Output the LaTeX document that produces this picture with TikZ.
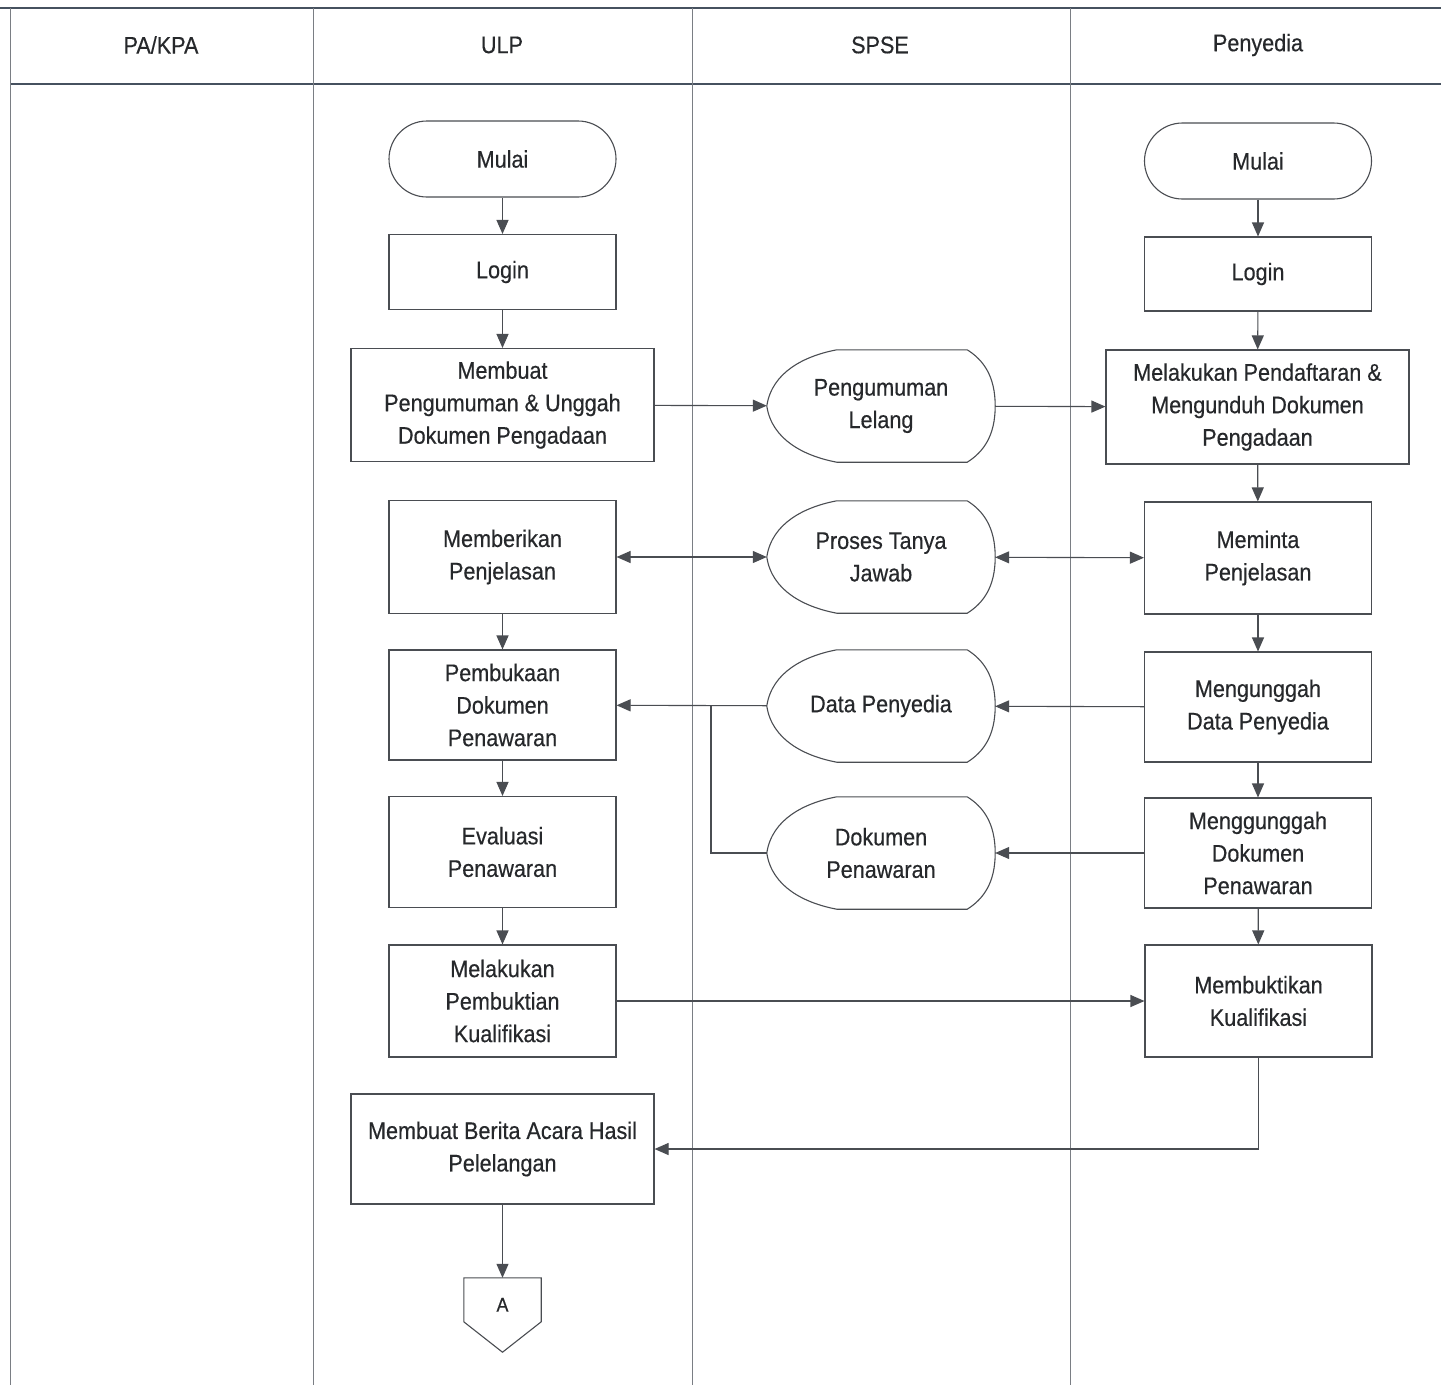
\documentclass[tikz,border=0pt]{standalone}
\usepackage{fontspec}
\setmainfont{Liberation Sans}[FakeStretch=0.9,FakeBold=0.4]
\usetikzlibrary{arrows.meta,calc}

\definecolor{lncol}{HTML}{4A4D52}
\definecolor{txt}{HTML}{26282B}
\definecolor{frame}{HTML}{46515F}
\definecolor{lane}{HTML}{7A7E84}

\newcommand\lab{\fontsize{24}{32.5}\selectfont}

% outline of a "display" symbol around a node
\newcommand\dispedge[1]{%
  \draw[shp] (#1.west)
    .. controls ($(#1.west)+(5,-34)$) and ($(#1.north west)+(38,6)$) .. ($(#1.north west)+(70,0)$)
    -- ($(#1.north east)+(-28,0)$)
    .. controls ($(#1.north east)+(-12,10)$) and ($(#1.east)+(0,-30)$) .. (#1.east)
    .. controls ($(#1.east)+(0,30)$) and ($(#1.south east)+(-12,-10)$) .. ($(#1.south east)+(-28,0)$)
    -- ($(#1.south west)+(70,0)$)
    .. controls ($(#1.south west)+(38,-6)$) and ($(#1.west)+(5,34)$) .. cycle;}

\tikzset{
  ftip/.tip={Triangle[length=14pt,width=12pt]},
  shp/.style={draw=lncol, line width=1.1pt},
  box/.style={shp, fill=white, minimum width=227, minimum height=112,
    align=center, inner sep=2pt, text=txt, font=\lab},
  wide/.style={box, minimum width=303},
  term/.style={box, rounded corners=38, minimum height=76},
  disp/.style={minimum width=228, minimum height=112, align=center,
    inner sep=0pt, text=txt, font=\lab},
  head/.style={text=txt, font=\lab},
  arr/.style={draw=lncol, line width=1.1pt, -{ftip}},
  arr2/.style={draw=lncol, line width=1.1pt, {ftip}-{ftip}},
  conn/.style={draw=lncol, line width=1.1pt},
}

\begin{document}
\begin{tikzpicture}[x=1pt,y=-1pt]
\useasboundingbox (0,0) rectangle (1441,1385);
\fill[white] (0,0) rectangle (1441,1385);

% swimlane frame
\draw[frame, line width=2.4pt] (0,8) -- (1441,8);
\draw[frame, line width=1.8pt] (10,84) -- (1441,84);
\foreach \x in {10,313,692,1070}
  \draw[lane, line width=0.9pt] (\x,8) -- (\x,1385);

% lane titles
\node[head] (hPA)  at (161,45)  {PA/KPA};
\node[head] (hULP) at (502,45)  {ULP};
\node[head] (hSP)  at (880,45)  {SPSE};
\node[head] (hPN)  at (1258,45) {Penyedia};

% ULP lane
\node[term] (mulaiU) at (502.5,159) {Mulai};
\node[box, minimum height=75] (loginU) at (502.5,272) {Login};
\node[wide, minimum height=113] (buat) at (502.5,405) {Membuat\\Pengumuman \& Unggah\\Dokumen Pengadaan};
\node[box, minimum height=113] (beri) at (502.5,557) {Memberikan\\Penjelasan};
\node[box, minimum height=110] (buka) at (502.5,705) {Pembukaan\\Dokumen\\Penawaran};
\node[box, minimum height=111] (eval) at (502.5,852) {Evaluasi\\Penawaran};
\node[box, minimum height=112] (bukti) at (502.5,1001) {Melakukan\\Pembuktian\\Kualifikasi};
\node[wide, minimum height=110] (berita) at (502.5,1149) {Membuat Berita Acara Hasil\\Pelelangan};

% off-page connector
\node[minimum width=77, minimum height=74, inner sep=0pt] (offA) at (502.5,1315) {};
\draw[shp, fill=white] (offA.north west) -- (offA.north east) -- ($(offA.north east)+(0,44)$)
  -- (offA.south) -- ($(offA.north west)+(0,44)$) -- cycle;
\node[text=txt, font=\fontsize{20}{24}\selectfont] (offAtxt) at ($(offA.north)+(0,27)$) {A};

% SPSE lane
\node[disp] (peng)  at (881,406) {Pengumuman\\Lelang};
\node[disp] (tanya) at (881,557) {Proses Tanya\\Jawab};
\node[disp] (data)  at (881,706) {Data Penyedia};
\node[disp] (dok)   at (881,853) {Dokumen\\Penawaran};
\dispedge{peng}
\dispedge{tanya}
\dispedge{data}
\dispedge{dok}

% Penyedia lane
\node[term] (mulaiP) at (1258,161) {Mulai};
\node[box, minimum height=74] (loginP) at (1258,274) {Login};
\node[wide, minimum height=114] (daftar) at (1257.5,407) {Melakukan Pendaftaran \&\\Mengunduh Dokumen\\Pengadaan};
\node[box, minimum height=112] (minta) at (1258,558) {Meminta\\Penjelasan};
\node[box, minimum height=110] (udata) at (1258,707) {Mengunggah\\Data Penyedia};
\node[box, minimum height=110] (udok) at (1258,853) {Menggunggah\\Dokumen\\Penawaran};
\node[box, minimum height=112] (buktiP) at (1258.5,1001) {Membuktikan\\Kualifikasi};

% ULP flow
\draw[arr] (mulaiU) -- (loginU);
\draw[arr] (loginU) -- (buat);
\draw[arr] (beri) -- (buka);
\draw[arr] (buka) -- (eval);
\draw[arr] (eval) -- (bukti);
\draw[arr] (berita) -- (offA.north);

% Penyedia flow
\draw[arr] (mulaiP) -- (loginP);
\draw[arr] (loginP) -- (daftar);
\draw[arr] (daftar) -- (minta);
\draw[arr] (minta) -- (udata);
\draw[arr] (udata) -- (udok);
\draw[arr] (udok) -- (buktiP);

% exchanges across lanes
\draw[arr] (buat) -- (peng);
\draw[arr] (peng) -- (daftar);
\draw[arr2] (beri) -- (tanya);
\draw[arr2] (tanya) -- (minta);
\draw[arr] (udata) -- (data);
\draw[arr] (data) -- (buka);
\draw[arr] (udok) -- (dok);
\coordinate (join) at (711,706);
\draw[conn] (dok.west) -| (join);
\draw[arr] (bukti) -- (buktiP);
\draw[arr] (buktiP.south) |- (berita.east);
\end{tikzpicture}
\end{document}
